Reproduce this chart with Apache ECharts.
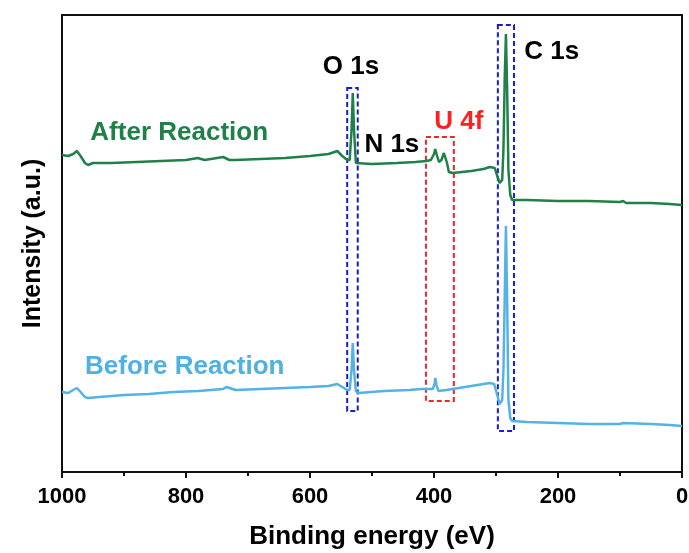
<!DOCTYPE html>
<html>
<head>
    <meta charset="utf-8">
    <title>XPS survey</title>
    <script src="https://cdn.jsdelivr.net/npm/echarts@6/dist/echarts.min.js"></script>
    <style>
        html, body {
            margin: 0;
            padding: 0;
            background: #fff;
        }

        #chart {
            width: 689px;
            height: 553px;
        }
    </style>
</head>
<body>
<div id="chart"></div>
<script>
    // binding energy (eV) / intensity (a.u.)
    var afterEnergy = [1000, 990, 982, 976, 970, 963, 958, 950, 920, 880, 840, 800, 781, 770, 760, 740, 730, 720, 680, 640,
        600, 570, 556, 548, 540, 536, 533, 531, 529, 526, 523, 500, 460, 430, 412, 405, 400, 398, 395, 392,
        388, 384, 382, 379, 376, 370, 340, 320, 310, 302, 298, 294, 290, 288, 286, 284, 282, 280, 277, 274,
        250, 200, 150, 100, 95, 90, 50, 20, 0];
    var afterIntensity = [317, 316, 318, 321, 316, 309, 307, 309, 309, 310, 311, 312, 314, 312, 313, 315, 312, 312, 313, 314,
        316, 318, 321, 316, 312, 312, 342, 379, 342, 309, 307, 308, 309, 310, 311, 312, 318, 323, 316, 310,
        312, 319, 320, 309, 300, 299, 301, 303, 305, 304, 296, 289, 292, 322, 392, 438, 382, 302, 277, 272,
        272, 271, 271, 270, 271, 269, 269, 268, 267];

    var beforeEnergy = [1000, 990, 982, 976, 970, 963, 958, 940, 900, 860, 820, 780, 740, 735, 720, 680, 640, 600, 570, 556,
        548, 540, 536, 533, 531, 529, 526, 522, 480, 440, 420, 402, 399, 398, 396, 393, 380, 350, 320, 310,
        303, 298, 294, 290, 288, 286, 284, 282, 280, 277, 274, 250, 200, 150, 100, 95, 50, 20, 0];
    var beforeIntensity = [80, 79, 82, 84, 80, 75, 74, 75, 77, 78, 80, 81, 83, 85, 82, 83, 84, 85, 86, 88,
        85, 82, 82, 102, 129, 102, 81, 79, 81, 82, 83, 83, 88, 94, 87, 81, 82, 85, 88, 89,
        88, 77, 68, 72, 102, 172, 246, 172, 72, 54, 51, 50, 49, 48, 48, 49, 48, 47, 46];

    // dashed boxes: [energy from, energy to, intensity low, intensity high]
    var boxO = [540, 523, 61, 384];
    var boxU = [413, 368, 71, 335];
    var boxC = [297, 271, 41, 447];

    // text labels: energy, intensity, text
    var labelText = ['O 1s', 'N 1s', 'U 4f', 'C 1s', 'After Reaction', 'Before Reaction'];
    var labelEnergy = [534, 468, 360, 210, 811, 802];
    var labelIntensity = [405, 327, 350, 420, 339, 105];
    var labelColor = ['#000', '#000', '#ff1f1f', '#000', '#1f8048', '#4fb0e4'];

    var xTicks = [0, 200, 400, 600, 800, 1000];

    function pairs(xs, ys) {
        return xs.map(function (x, i) {
            return [x, ys[i]];
        });
    }

    function box(b, color) {
        return [{
            coord: [b[0], b[3]],
            itemStyle: {
                color: 'rgba(0,0,0,0)',
                borderColor: color,
                borderWidth: 2,
                borderType: [5, 3]
            }
        }, {
            coord: [b[1], b[2]]
        }];
    }

    var labelData = labelText.map(function (t, i) {
        return {
            value: [labelEnergy[i], labelIntensity[i]],
            name: t,
            label: {color: labelColor[i]}
        };
    });

    var option = {
        animation: false,
        grid: {
            left: 62,
            right: 7,
            top: 15,
            bottom: 81,
            outerBoundsMode: 'none',
            show: true,
            borderColor: '#111',
            borderWidth: 2
        },
        xAxis: {
            type: 'value',
            inverse: true,
            min: 0,
            max: 1000,
            interval: 200,
            name: 'Binding energy (eV)',
            nameLocation: 'middle',
            nameGap: 52,
            nameTextStyle: {
                fontFamily: '"Liberation Sans", Arial, sans-serif',
                fontWeight: 'bold',
                fontSize: 26,
                color: '#000'
            },
            splitLine: {show: false},
            axisLine: {lineStyle: {color: '#111', width: 2}},
            axisTick: {length: 6, lineStyle: {color: '#111', width: 2}},
            minorTick: {show: true, splitNumber: 2, length: 4, lineStyle: {color: '#111', width: 2}},
            axisLabel: {
                margin: 14,
                fontFamily: '"Liberation Sans", Arial, sans-serif',
                fontWeight: 'bold',
                fontSize: 22,
                color: '#000',
                formatter: function (v) {
                    return String(v);
                },
                customValues: xTicks
            }
        },
        yAxis: {
            type: 'value',
            min: 0,
            max: 457,
            name: 'Intensity (a.u.)',
            nameLocation: 'middle',
            nameGap: 16,
            nameTextStyle: {
                fontFamily: '"Liberation Sans", Arial, sans-serif',
                fontWeight: 'bold',
                fontSize: 25,
                color: '#000'
            },
            splitLine: {show: false},
            axisLine: {show: true, lineStyle: {color: '#111', width: 2}},
            axisTick: {show: false},
            axisLabel: {show: false}
        },
        series: [{
            name: 'After Reaction',
            type: 'line',
            data: pairs(afterEnergy, afterIntensity),
            showSymbol: false,
            lineStyle: {color: '#1f8048', width: 2.5},
            markArea: {
                silent: true,
                data: [box(boxO, '#1c1ccf'), box(boxU, '#e8282e'), box(boxC, '#1c1ccf')]
            }
        }, {
            name: 'Before Reaction',
            type: 'line',
            data: pairs(beforeEnergy, beforeIntensity),
            showSymbol: false,
            lineStyle: {color: '#55b2e4', width: 2.5}
        }, {
            name: 'labels',
            type: 'scatter',
            symbolSize: 0,
            silent: true,
            itemStyle: {opacity: 1},
            data: labelData,
            label: {
                show: true,
                position: 'inside',
                formatter: '{b}',
                fontFamily: '"Liberation Sans", Arial, sans-serif',
                fontWeight: 'bold',
                fontSize: 26
            }
        }]
    };

    var myChart = echarts.init(document.getElementById('chart'));
    myChart.setOption(option);
</script>
</body>
</html>
